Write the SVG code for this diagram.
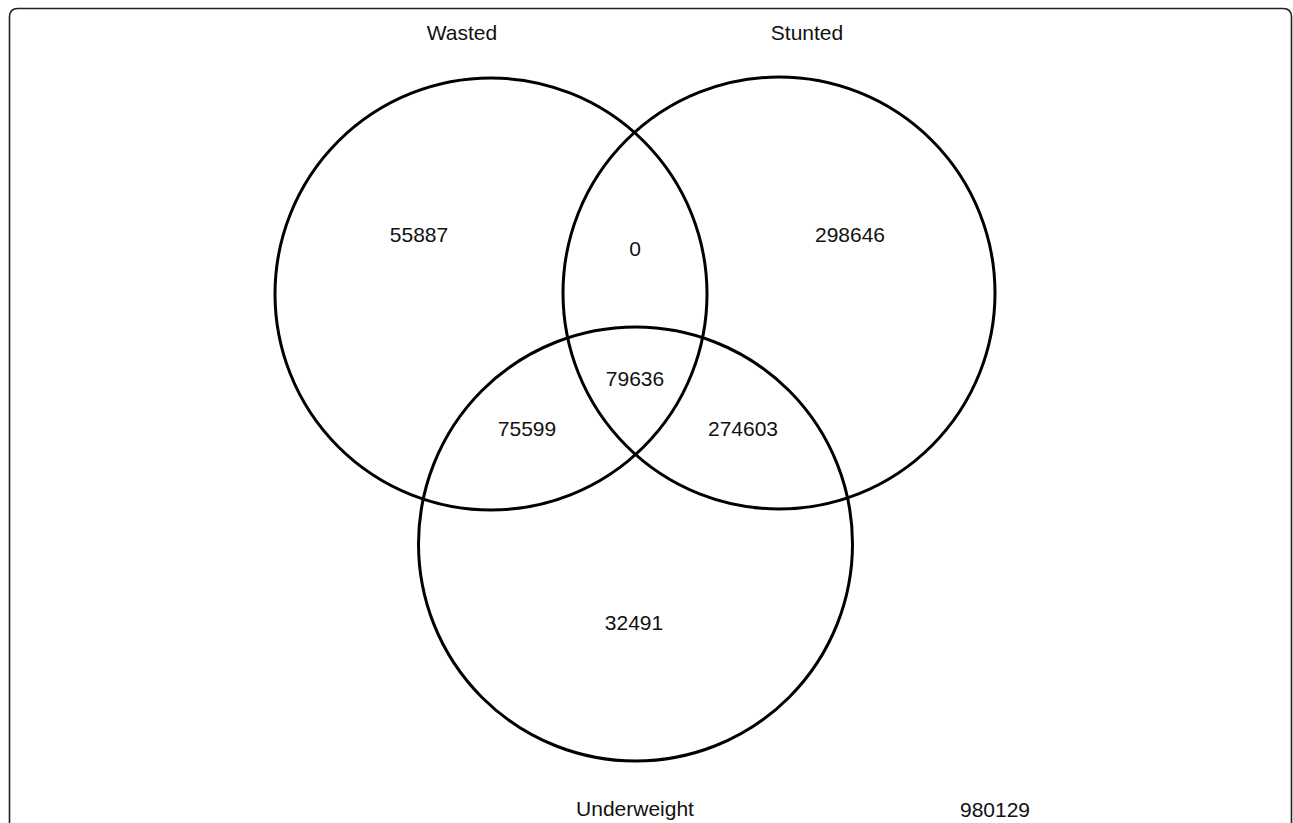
<svg xmlns="http://www.w3.org/2000/svg" width="1293" height="823" viewBox="0 0 1293 823">
<style>
.set{fill:none;stroke:#000;stroke-width:3}
.lbl{font-family:"Liberation Sans",Arial,sans-serif;font-size:21px;fill:#111;text-anchor:middle}
</style>
<rect width="1293" height="823" fill="#fff"/>
<path d="M9.5 823 V17 Q9.5 8.5 18 8.5 H1283 Q1291.5 8.5 1291.5 17 V823" fill="none" stroke="#222" stroke-width="1.6"/>
<g id="wasted">
<circle class="set" cx="491" cy="294" r="216"/>
<text class="lbl" x="462" y="40">Wasted</text>
</g>
<g id="stunted">
<circle class="set" cx="779" cy="293" r="216"/>
<text class="lbl" x="807" y="40">Stunted</text>
</g>
<g id="underweight">
<circle class="set" cx="635.5" cy="544" r="217"/>
<text class="lbl" x="635" y="816">Underweight</text>
</g>
<g id="regions">
<text class="lbl" x="419" y="242">55887</text>
<text class="lbl" x="635" y="256">0</text>
<text class="lbl" x="850" y="242">298646</text>
<text class="lbl" x="635" y="386">79636</text>
<text class="lbl" x="527" y="436">75599</text>
<text class="lbl" x="743" y="436">274603</text>
<text class="lbl" x="634" y="630">32491</text>
<text class="lbl" x="995" y="817">980129</text>
</g>
<g id="connectors"></g>
</svg>
